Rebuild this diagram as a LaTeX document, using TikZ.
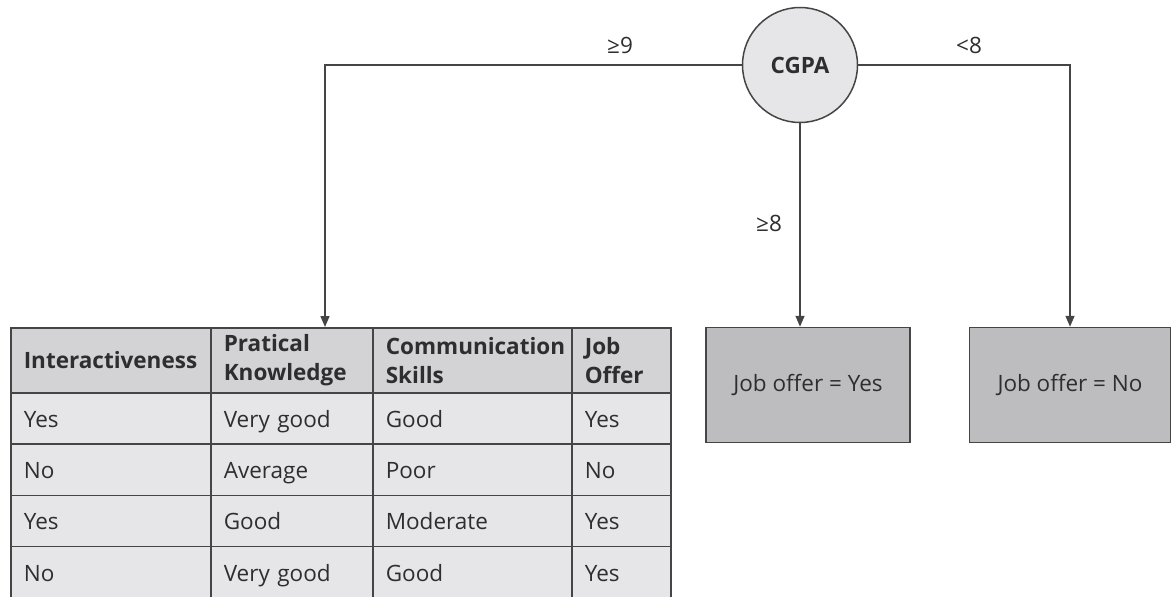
\documentclass[tikz,border=0pt]{standalone}
\usepackage{fontspec}
\setmainfont{Open Sans}
\usetikzlibrary{positioning,arrows.meta}

\definecolor{linegray}{HTML}{454545}
\definecolor{textgray}{HTML}{2E2E2E}
\definecolor{headgray}{HTML}{D3D3D5}
\definecolor{rowgray}{HTML}{E6E6E8}
\definecolor{leafgray}{HTML}{BDBDC0}

\begin{document}
\begin{tikzpicture}[x=1pt, y=-1pt, font=\fontsize{22.5}{29}\selectfont]
\useasboundingbox (0,0) rectangle (1173,597);

\tikzstyle{cell}=[draw=linegray, line width=1.6pt, fill=rowgray, anchor=north west, inner xsep=13pt, inner ysep=0pt, minimum height=51.25pt, text height=18pt, text depth=0pt, align=left, text=textgray];
\tikzstyle{head}=[cell, fill=headgray, minimum height=65pt, text height=, text depth=, font=\fontsize{22.5}{29}\selectfont\bfseries];
\tikzstyle{leaf}=[draw=linegray, line width=1.5pt, fill=leafgray, text=textgray, minimum width=204pt, minimum height=115pt];
\tikzstyle{e}=[draw=linegray, line width=1.5pt, -{Triangle[length=11pt,width=9pt]}];

% root of the tree
\node[draw=linegray, line width=1.5pt, circle, fill=rowgray, text=textgray, minimum size=115pt, inner sep=0pt] (cgpa) at (800,65) {\textbf{CGPA}};

% leaves
\node[leaf] (yes) at (808,385) {Job offer = Yes};
\node[leaf, minimum width=201pt] (no) at (1070,385) {Job offer = No};

% table for the CGPA >= 9 branch
\node[head, text width=174pt] (h1) at (10,327) {Interactiveness};
\node[head, text width=136pt] (h2) at (210,327) {Pratical\\Knowledge};
\node[head, text width=173pt] (h3) at (372,327) {Communication\\Skills};
\node[head, text width=73pt] (h4) at (571,327) {Job\\Offer};

\node[cell, text width=174pt] (r1a) at (10,392) {Yes};
\node[cell, text width=136pt] (r1b) at (210,392) {Very good};
\node[cell, text width=173pt] (r1c) at (372,392) {Good};
\node[cell, text width=73pt] (r1d) at (571,392) {Yes};

\node[cell, text width=174pt] (r2a) at (10,443.25) {No};
\node[cell, text width=136pt] (r2b) at (210,443.25) {Average};
\node[cell, text width=173pt] (r2c) at (372,443.25) {Poor};
\node[cell, text width=73pt] (r2d) at (571,443.25) {No};

\node[cell, text width=174pt] (r3a) at (10,494.5) {Yes};
\node[cell, text width=136pt] (r3b) at (210,494.5) {Good};
\node[cell, text width=173pt] (r3c) at (372,494.5) {Moderate};
\node[cell, text width=73pt] (r3d) at (571,494.5) {Yes};

\node[cell, text width=174pt] (r4a) at (10,545.75) {No};
\node[cell, text width=136pt] (r4b) at (210,545.75) {Very good};
\node[cell, text width=173pt] (r4c) at (372,545.75) {Good};
\node[cell, text width=73pt] (r4d) at (571,545.75) {Yes};

\coordinate (tabtop) at (325,327);

% branches
\draw[e] (cgpa.west) -| (tabtop);
\draw[e] (cgpa.south) -- (cgpa |- yes.north);
\draw[e] (cgpa.east) -| (no.north);

\node[text=textgray] (ge9) at (620,45) {≥9};
\node[text=textgray] (ge8) at (769,223) {≥8};
\node[text=textgray] (lt8) at (969,45) {<8};
\end{tikzpicture}
\end{document}
